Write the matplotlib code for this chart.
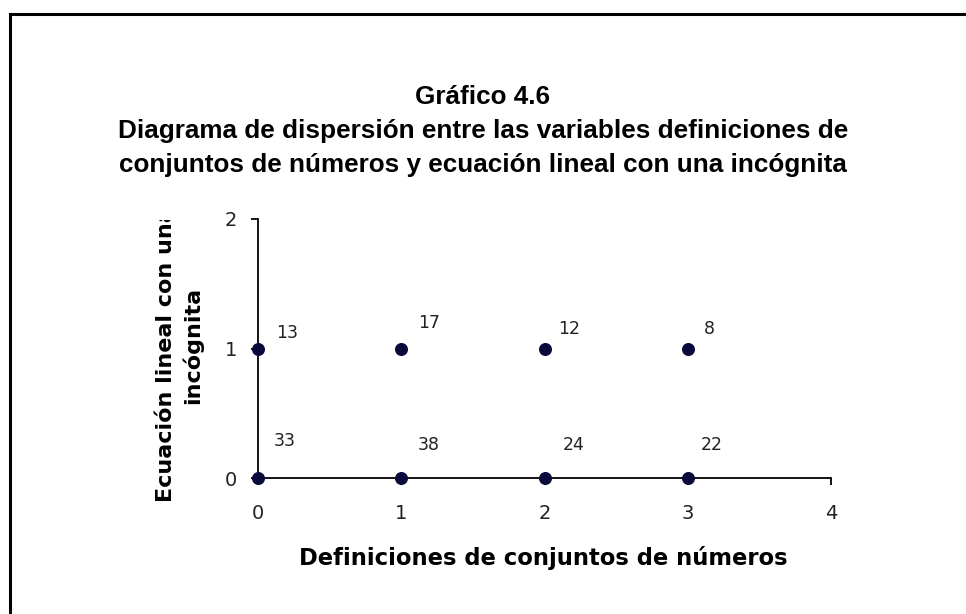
import matplotlib.pyplot as plt
import matplotlib.patches as mpatches
from matplotlib.transforms import Bbox

# Definiciones de conjuntos de números (x) vs ecuación lineal (y), with counts
x_vals = [0, 1, 2, 3, 0, 1, 2, 3]
y_vals = [1, 1, 1, 1, 0, 0, 0, 0]
counts = [13, 17, 12, 8, 33, 38, 24, 22]

x_ticks = [0, 1, 2, 3, 4]
y_ticks = [0, 1, 2]

# label offsets from each point, in pixels (dx, dy)
label_offsets = [(29, 15), (28, 25), (25, 19), (22, 19),
                 (27, 37), (27, 33), (29, 33), (24, 33)]

fig = plt.figure(figsize=(9.66, 6.14), dpi=100)
fig.patch.set_facecolor("white")

# chart frame (only left and top edges fall inside the image)
frame = mpatches.Rectangle((10 / 966, -0.1), 1.2, 1 - 14 / 614 + 0.1,
                           transform=fig.transFigure, fill=False,
                           edgecolor="black", linewidth=2.2, clip_on=False)
fig.patches.append(frame)

ax = fig.add_axes([258 / 966, 136 / 614, 573 / 966, 259 / 614])
ax.scatter(x_vals, y_vals, s=70, color="#0a0a3a", zorder=3, clip_on=False)

for x, y, c, (dx, dy) in zip(x_vals, y_vals, counts, label_offsets):
    ax.annotate(str(c), (x, y), xytext=(dx * 0.72, dy * 0.72),
                textcoords="offset points", ha="center", va="center",
                fontsize=12.5, family="DejaVu Sans", color="#222222")

ax.set_xlim(0, 4)
ax.set_ylim(0, 2)
ax.set_xticks(x_ticks)
ax.set_yticks(y_ticks)
for s in ["top", "right"]:
    ax.spines[s].set_visible(False)
for s in ["left", "bottom"]:
    ax.spines[s].set_linewidth(1.3)
ax.tick_params(direction="out", length=5, width=1.3, labelsize=14,
               labelcolor="#222222")
ax.tick_params(axis="x", pad=14)
ax.tick_params(axis="y", pad=10)

ax.set_xlabel("Definiciones de conjuntos de números", fontsize=16.3,
              fontweight="bold", family="DejaVu Sans", va="center")
ax.xaxis.set_label_coords((543 - 258) / 573, -(558 - 478) / 259)

# y label in two lines; the first one is cut off at the top
clip = Bbox([[0, 0], [966, 614 - 220]])
t1 = fig.text(166 / 966, 1 - 355 / 614, "Ecuación lineal con una",
              rotation=90, ha="center", va="center", fontsize=16,
              fontweight="bold", family="DejaVu Sans")
t1.set_clip_box(clip)
t1.set_clip_on(True)
fig.text(192 / 966, 1 - 345 / 614, "incógnita", rotation=90, ha="center",
         va="center", fontsize=16, fontweight="bold", family="DejaVu Sans")

title_lines = ["Gráfico 4.6",
               "Diagrama de dispersión entre las variables definiciones de",
               "conjuntos de números y ecuación lineal con una incógnita"]
for i, line in enumerate(title_lines):
    fig.text(483 / 966, 1 - (97 + 34 * i) / 614, line, ha="center",
             va="center", fontsize=18.8, fontweight="bold",
             family="Liberation Sans")

fig.savefig("out.png", dpi=100)
